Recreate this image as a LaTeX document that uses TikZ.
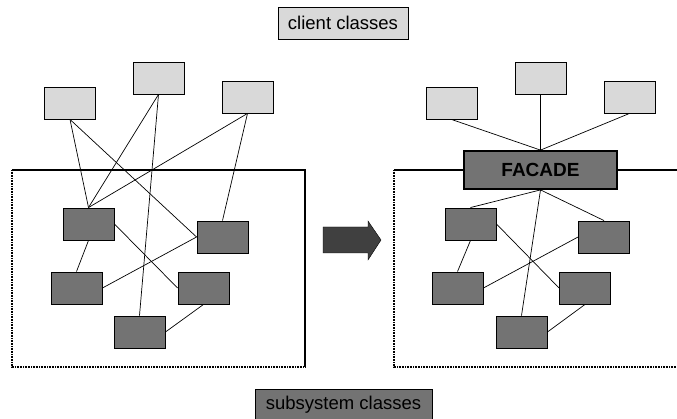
\documentclass[tikz,border=0pt]{standalone}
\usepackage{fontspec}
\setmainfont{Liberation Sans}
\usetikzlibrary{positioning,calc}
\definecolor{clientgray}{HTML}{D9D9D9}
\definecolor{subgray}{HTML}{737373}
\definecolor{arrowgray}{HTML}{404040}
\tikzset{
  % Define style for client boxes
  client/.style={
    rectangle,
    draw=black, line width=0.9pt,
    fill=clientgray,
    minimum width=51pt,
    minimum height=32pt,
    inner sep=0pt},
  % Define style for subsystem boxes
  sub/.style={
    rectangle,
    draw=black, line width=0.9pt,
    fill=subgray,
    minimum width=51pt,
    minimum height=32pt,
    inner sep=0pt},
  % Define style for labels
  label box/.style={
    rectangle,
    draw=black, line width=0.8pt,
    font=\fontsize{18.5}{20}\selectfont,
    minimum height=32pt,
    inner sep=0pt},
  % line
  line/.style = {draw, line width=0.7pt},
  % frame
  frame/.style = {line width=1.6pt},
  dotframe/.style = {line width=1.6pt, dash pattern=on 1pt off 0.6pt},
}

\begin{document}
\begin{tikzpicture}[x=1pt,y=-1pt]
  \useasboundingbox (0,0) rectangle (677,419);
  % labels
  \node[label box, fill=clientgray, minimum width=130pt] (clients) at (343,23) {client classes};
  \node[label box, fill=subgray, minimum width=177pt] (subsystem) at (343.5,405) {subsystem classes};

  % left: frame
  \draw[frame] (12,170) -- (305,170) -- (305,367);
  \draw[dotframe] (12,170) -- (12,367) -- (305,367);
  % left: nodes
  \node[client] (c1) at (70,103) {};
  \node[client] (c2) at (158.5,78) {};
  \node[client] (c3) at (247.5,97) {};
  \node[sub] (s1) at (88.5,224) {};
  \node[sub] (s2) at (222.5,237) {};
  \node[sub] (s3) at (76.5,288) {};
  \node[sub] (s4) at (203.5,288) {};
  \node[sub] (s5) at (139.5,332) {};
  % left: links
  \path[line] (c1.south) -- (s1.north);
  \path[line] (c1.south) -- (s2.west);
  \path[line] (c2.south) -- (s1.north);
  \path[line] (c2.south) -- (s5.north);
  \path[line] (c3.south) -- (s1.north);
  \path[line] (c3.south) -- (s2.north);
  \path[line] (s1.south) -- (s3.north);
  \path[line] (s1.east) -- (s4.west);
  \path[line] (s2.west) -- (s3.east);
  \path[line] (s4.south) -- (s5.east);

  % arrow
  \fill[arrowgray, draw=black, line width=0.4pt]
    (323,227) -- (368,227) -- (368,221) -- (381,240) -- (368,260)
    -- (368,253) -- (323,253) -- cycle;

  % right: nodes
  \node[client] (d1) at (451.5,103) {};
  \node[client] (d2) at (540.5,78) {};
  \node[client] (d3) at (629.5,97) {};
  \node[sub, line width=1.8pt, minimum width=153pt, minimum height=38pt,
        font=\fontsize{19}{20}\selectfont\bfseries] (facade) at (540.5,170) {FACADE};
  \node[sub] (t1) at (470.5,224) {};
  \node[sub] (t2) at (604,237) {};
  \node[sub] (t3) at (457.5,288) {};
  \node[sub] (t4) at (585,288) {};
  \node[sub] (t5) at (521.5,332) {};
  % right: frame
  \draw[frame] (394,170) -- (facade.west);
  \draw[frame] (facade.east) -- (677,170);
  \draw[dotframe] (394,170) -- (394,367) -- (677,367);
  % right: links
  \path[line] (d1.south) -- (facade.north);
  \path[line] (d2.south) -- (facade.north);
  \path[line] (d3.south) -- (facade.north);
  \path[line] (facade.south) -- (t1.north);
  \path[line] (facade.south) -- (t2.north);
  \path[line] (facade.south) -- (t5.north);
  \path[line] (t1.south) -- (t3.north);
  \path[line] (t1.east) -- (t4.west);
  \path[line] (t2.west) -- (t3.east);
  \path[line] (t4.south) -- (t5.east);

\end{tikzpicture}
\end{document}
